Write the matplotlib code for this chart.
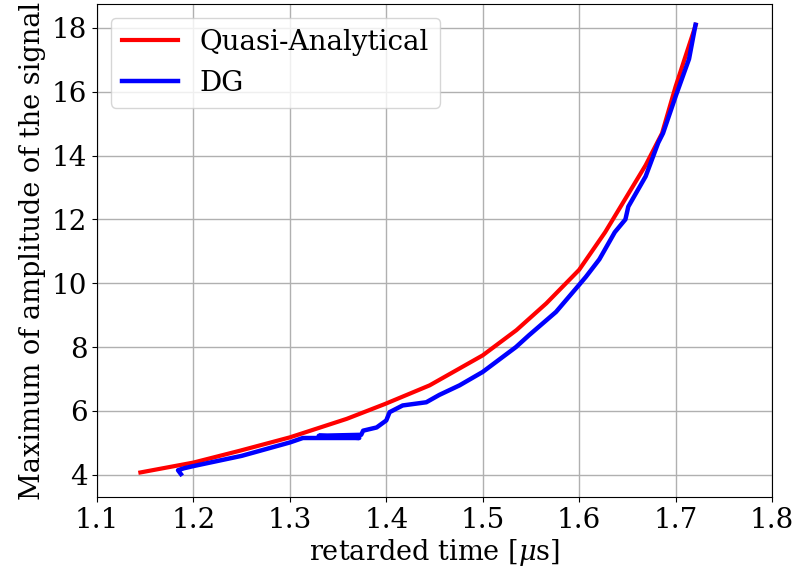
import matplotlib
matplotlib.use("Agg")
import matplotlib.pyplot as plt

plt.rcParams['font.family'] = ['DejaVu Serif']
plt.rcParams['mathtext.fontset'] = 'dejavuserif'

qa_t = [1.145, 1.2, 1.248, 1.3, 1.359, 1.399, 1.445, 1.5, 1.535, 1.566,
        1.6, 1.627, 1.650, 1.669, 1.686, 1.700, 1.721]
qa_amp = [4.07, 4.38, 4.75, 5.17, 5.75, 6.22, 6.8, 7.74, 8.53, 9.37,
          10.42, 11.6, 12.75, 13.7, 14.7, 16.16, 18.1]

dg_t = [1.187, 1.184, 1.19, 1.2, 1.25, 1.3, 1.3135, 1.372, 1.33, 1.374,
        1.376, 1.39, 1.40, 1.4035, 1.417, 1.4415, 1.455, 1.476, 1.5, 1.5345,
        1.548, 1.576, 1.6, 1.607, 1.621, 1.637, 1.648, 1.651, 1.669, 1.682,
        1.687, 1.70, 1.714, 1.7207]
dg_amp = [4.02, 4.14, 4.2, 4.27, 4.59, 5.01, 5.15, 5.15, 5.22, 5.25,
          5.38, 5.48, 5.7, 5.96, 6.17, 6.27, 6.5, 6.8, 7.22, 8.0,
          8.37, 9.1, 9.95, 10.2, 10.75, 11.6, 12.0, 12.4, 13.35, 14.4,
          14.7, 15.85, 17.03, 18.1]

xticks = [1.1, 1.2, 1.3, 1.4, 1.5, 1.6, 1.7, 1.8]
yticks = [4, 6, 8, 10, 12, 14, 16, 18]

fig = plt.figure(figsize=(7.97, 5.77), dpi=100)
ax = fig.add_axes([0.1217, 0.1386, 0.8469, 0.8544])
ax.plot(qa_t, qa_amp, color='red', lw=3, label='Quasi-Analytical')
ax.plot(dg_t, dg_amp, color='blue', lw=3.2, label='DG')
ax.set_xlim(1.1, 1.8)
ax.set_ylim(3.3, 18.75)
ax.set_xticks(xticks)
ax.set_xticklabels([f"{v:.1f}" for v in xticks])
ax.set_yticks(yticks)
ax.tick_params(labelsize=20)
ax.grid(True, color='#b0b0b0', lw=1)
ax.set_xlabel(r'retarded time [$\mu$s]', fontsize=19.5, labelpad=2)
ax.set_ylabel('Maximum of amplitude of the signal', fontsize=19.5, labelpad=4)
ax.legend(loc='upper left', fontsize=20)
fig.savefig('out.png', dpi=100)
